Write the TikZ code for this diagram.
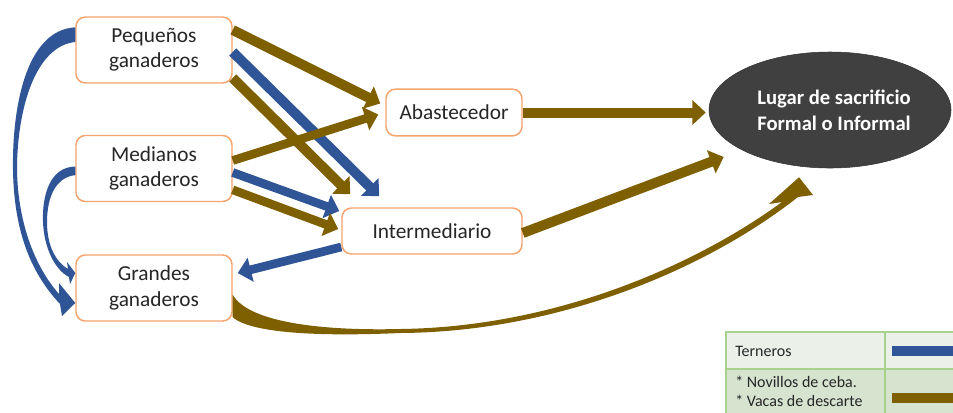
\documentclass[tikz,border=0pt]{standalone}
\usepackage{fontspec}
\setmainfont{Carlito}
\usetikzlibrary{shapes.geometric,arrows.meta,calc}
\definecolor{cowblue}{HTML}{2F5597}
\definecolor{cowbrown}{HTML}{7F6000}
\definecolor{boxline}{HTML}{F4A46C}
\definecolor{sitefill}{HTML}{404040}
\definecolor{legline}{HTML}{A9D18E}
\definecolor{legone}{HTML}{EBF1E9}
\definecolor{legtwo}{HTML}{D5E3CF}

\begin{document}
\begin{tikzpicture}[x=0.75pt, y=-0.75pt,
  actor/.style={draw=boxline, line width=1.1pt, rounded corners=7pt, fill=white, align=center, text=black!85, font=\fontsize{16}{19}\selectfont, minimum width=117pt, minimum height=49.5pt, inner sep=2pt},
  site/.style={ellipse, draw=black!80, fill=sitefill, text=white, align=center, font=\bfseries\fontsize{15.5}{19.5}\selectfont, minimum width=181.5pt, minimum height=87pt, inner sep=0pt},
  blueflow/.style={draw=cowblue, line width=7.5pt, -{Triangle[width=18pt,length=10pt]}},
  brownflow/.style={draw=cowbrown, line width=7.5pt, -{Triangle[width=18pt,length=10pt]}},
  legtext/.style={text=black!85, font=\fontsize{12}{14.5}\selectfont, inner sep=0pt, align=left}]
  \useasboundingbox (0,0) rectangle (953,412);
  \clip (0,0) rectangle (953,412);

  % producers and traders
  \node[actor] (peq) at (154, 50) {Pequeños\\ganaderos};
  \node[actor] (med) at (154, 168.5) {Medianos\\ganaderos};
  \node[actor] (gra) at (154, 288) {Grandes\\ganaderos};
  \node[actor, minimum width=102pt, minimum height=35pt] (abas) at (454, 112.5) {Abastecedor};
  \node[actor, minimum width=135pt, minimum height=34.5pt] (inter) at (432, 231) {Intermediario};
  \node[site] (lug) at (830, 110) {\hspace*{6pt}Lugar de sacrificio\\\hspace*{6pt}Formal o Informal};

  % straight flows
  \draw[brownflow] ([yshift=15pt]peq.east) -- ($(abas.west)+(-5,-9)$);
  \draw[blueflow] ([yshift=-1.5pt]peq.east) -- ($(inter.north west)+(38,-11)$);
  \draw[brownflow] ([yshift=-21pt]peq.east) -- ($(inter.north west)+(9,-13)$);
  \draw[brownflow, line width=6.5pt] ([yshift=6pt]med.east) -- ($(abas.west)+(-7,2)$);
  \draw[blueflow, line width=6.5pt] ([yshift=-3pt]med.east) -- ($(inter.west)+(-2,-20)$);
  \draw[brownflow, line width=6.5pt] ([yshift=-16pt]med.east) -- ($(inter.west)+(-3,-2)$);
  \draw[blueflow, line width=6.5pt] ([yshift=-12pt]inter.west) -- ($(gra.east)+(5,-15)$);
  \draw[brownflow] (abas.east) -- ($(abas.east -| lug.west)+(-3,0)$);
  \draw[brownflow] ([yshift=-1.5pt]inter.east) -- ($(lug.west)+(15,47)$);

  % curved flows (tapered)
  \fill[cowblue] ([yshift=17pt]peq.west) .. controls (25,30) and (12,110) .. (13,170)
    .. controls (14,230) and (30,272) .. (60,304) -- (62,316) -- ($(gra.west)+(0,15)$)
    -- (59,283) -- (59,294) .. controls (36,268) and (18,225) .. (17,170)
    .. controls (17,110) and (35,46) .. ([yshift=6pt]peq.west) -- cycle;
  \fill[cowblue] ([yshift=1.5pt]med.west) .. controls (50,167) and (42,195) .. (43,222)
    .. controls (44,248) and (55,270) .. (69,277) -- (70,284) -- ($(gra.west)+(0,-15)$)
    -- (67,262) -- (68,269) .. controls (56,262) and (47,246) .. (47,222)
    .. controls (47,197) and (56,177) .. ([yshift=-5pt]med.west) -- cycle;
  \fill[cowbrown] ([yshift=-5pt]gra.east) .. controls (248,322) and (320,331) .. (400,329)
    .. controls (560,327) and (700,262) .. (782,202) -- (769,204) -- ($(lug.south)+(-31,9)$)
    -- (813,195) -- (798,197) .. controls (708,268) and (560,332) .. (400,333)
    .. controls (310,337) and (250,332) .. ([yshift=-22pt]gra.east) -- cycle;

  % legend
  \fill[legone] (726,332) rectangle (985,369);
  \fill[legtwo] (726,369) rectangle (985,425);
  \draw[legline, line width=1.1pt] (726,425) -- (726,332) -- (985,332) (726,369) -- (985,369) (885,332) -- (885,425);
  \node[legtext, anchor=west] (ter) at (735,351) {Terneros};
  \node[legtext, anchor=north west] (nov) at (735,376) {* Novillos de ceba.\\* Vacas de descarte};
  \coordinate (bluekey) at (892,351);
  \coordinate (brownkey) at (892,398);
  \draw[blueflow] (bluekey) -- ++(80,0);
  \draw[brownflow] (brownkey) -- ++(80,0);
\end{tikzpicture}
\end{document}
